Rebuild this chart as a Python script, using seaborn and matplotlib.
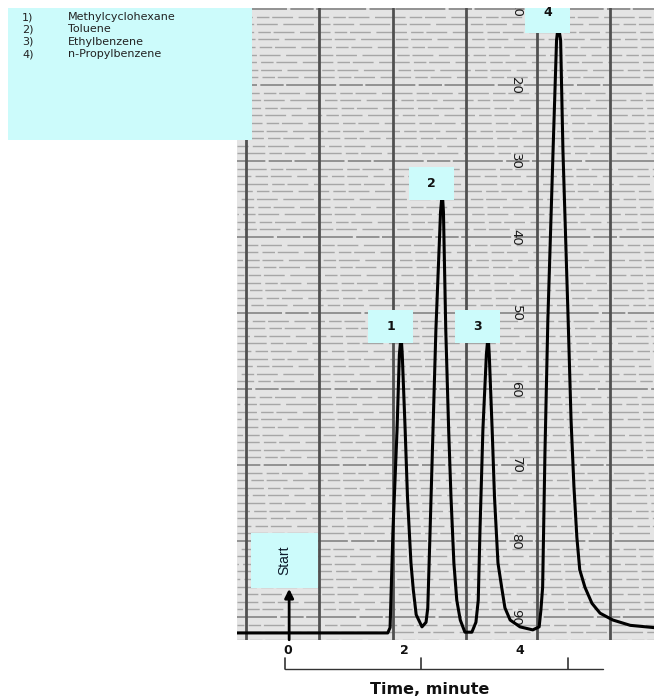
import numpy as np
import pandas as pd
import matplotlib
matplotlib.use("Agg")
import matplotlib.pyplot as plt
import matplotlib.transforms as mtransforms
from matplotlib.patches import Rectangle
import seaborn as sns

# ---------------- data ----------------
compounds = ["Methylcyclohexane", "Toluene", "Ethylbenzene", "n-Propylbenzene"]
peak_ids = ["1", "2", "3", "4"]
peak_times = [1.95, 2.66, 3.45, 4.66]          # minutes
peak_visible_top = [53.95, 35.13, 53.95, 13.16]  # chart division where label sits

trace_time = [-0.88, 1.72, 1.76, 1.81, 1.88, 1.92, 1.95, 1.97, 2.02, 2.06, 2.12,
              2.16, 2.21, 2.31, 2.38, 2.41, 2.45, 2.50, 2.55, 2.63, 2.66, 2.68,
              2.72, 2.77, 2.81, 2.86, 2.91, 2.97, 3.05, 3.17, 3.24, 3.28, 3.31,
              3.36, 3.42, 3.45, 3.47, 3.52, 3.56, 3.62, 3.69, 3.74, 3.83, 4.00,
              4.22, 4.33, 4.36, 4.39, 4.43, 4.48, 4.57, 4.63, 4.66, 4.70, 4.74,
              4.83, 4.88, 4.93, 4.98, 5.03, 5.12, 5.24, 5.38, 5.60, 5.90, 6.31]
trace_signal = [92.1, 92.1, 91.4, 78.6, 65.4, 55.5, 52.9, 55.5, 65.4, 74.2, 82.9,
                86.4, 89.7, 91.3, 90.7, 88.8, 78.6, 65.4, 52.2, 36.7, 34.1, 36.7,
                52.2, 65.4, 74.2, 82.9, 87.8, 90.4, 92.0, 92.0, 90.7, 87.8, 78.6,
                65.4, 55.5, 52.9, 55.5, 65.4, 74.2, 82.9, 86.4, 88.8, 90.4, 91.3,
                91.7, 91.3, 89.1, 86.1, 68.4, 50.9, 28.6, 14.1, 12.1, 14.1, 28.6,
                50.9, 64.1, 72.9, 79.5, 83.8, 86.1, 88.2, 89.5, 90.4, 91.1, 91.4]

scale_marks = [10, 20, 30, 40, 50, 60, 70, 80, 90]
paper_verticals = [-0.72, 0.53, 1.81, 3.07, 4.29, 5.55]
time_tick_labels = [0, 2, 4]
ruler_ticks = [-0.05, 2.29, 4.83]
ruler_end = 5.43
start_time = 0.02

# ---------------- styling / layout ----------------
sns.set_style("white")
plt.rcParams["font.family"] = ["DejaVu Sans"]

W, H = 654, 697
fig = plt.figure(figsize=(W / 100, H / 100), dpi=100)
fig.patch.set_facecolor("white")

def fx(px):
    return px / W

def fy(py):
    return 1 - py / H

CYAN = "#ccfbfb"
PAPER = "#e4e4e4"

ax = fig.add_axes([fx(237), fy(640), fx(654) - fx(237), fy(8) - fy(640)])
ax.set_facecolor(PAPER)
for s in ax.spines.values():
    s.set_visible(False)
ax.set_xticks([])
ax.set_yticks([])

# chart paper rulings (scanned look: broken lines with staggered dashes)
for k, v in enumerate(range(10, 94)):
    offset = (k * 11) % 23
    if v % 10 == 0:
        ax.axhline(v, color="#858585", lw=1.2, ls=(offset, (30, 2, 14, 1.5)), zorder=1)
    else:
        ax.axhline(v, color="#a6a6a6", lw=1.0, ls=(offset, (22, 3, 9, 2, 15, 4)), zorder=1)
for t in paper_verticals:
    ax.axvline(t, color="#505050", lw=2.0, zorder=1.5)

# chart division numbers
for v in scale_marks:
    ax.text(3.93, v, str(v), rotation=-90, ha="center", va="center",
            fontsize=9.5, color="#1a1a1a", zorder=2, clip_on=True)

# chromatogram trace
df = pd.DataFrame({"time": trace_time, "signal": trace_signal})
sns.lineplot(data=df, x="time", y="signal", sort=False, estimator=None,
             color="black", lw=2.2, ax=ax, zorder=3)
ax.set_xlabel("")
ax.set_ylabel("")
ax.set_xlim(-0.879, 6.310)
ax.set_ylim(93.03, 9.87)

# peak label boxes
box_w, box_h, box_off = 0.78, 4.35, 0.57
for pid, t, top in zip(peak_ids, peak_times, peak_visible_top):
    ax.add_patch(Rectangle((t - box_off, top - box_h), box_w, box_h,
                           facecolor=CYAN, edgecolor="none", zorder=4))
    ty = top - box_h / 2 if pid != "4" else top - box_h * 0.62
    ax.text(t - box_off + box_w / 2, ty, pid, ha="center", va="center",
            fontsize=9, fontweight="bold", color="#111", zorder=5)

# start marker
ax.add_patch(Rectangle((start_time - 0.66, 79.0), 1.16, 7.2,
                       facecolor=CYAN, edgecolor="none", zorder=4))
ax.text(start_time - 0.08, 82.6, "Start", rotation=90, ha="center", va="center",
        fontsize=10, color="#0d1a2a",
        family=["Liberation Sans Narrow", "Liberation Sans", "DejaVu Sans"], zorder=5)
ax.annotate("", xy=(start_time, 86.3), xytext=(start_time, 93.0),
            arrowprops=dict(arrowstyle="-|>", color="black", lw=2.0,
                            mutation_scale=13, shrinkA=0, shrinkB=0),
            zorder=5, annotation_clip=False)

# time ruler below the chart
tr = mtransforms.blended_transform_factory(ax.transData, fig.transFigure)
ax.plot([ruler_ticks[0], ruler_end], [fy(669), fy(669)], color="#333",
        lw=1.0, transform=tr, clip_on=False)
for t in ruler_ticks:
    ax.plot([t, t], [fy(669), fy(658)], color="#333", lw=1.2,
            transform=tr, clip_on=False)
for t in time_tick_labels:
    ax.text(t, fy(651), str(t), transform=tr, ha="center", va="center",
            fontsize=9, fontweight="bold", color="#111")
ax.text(2.45, fy(689), "Time, minute", transform=tr, ha="center", va="center",
        fontsize=11.5, fontweight="bold", color="#111")

# compound legend box
fig.add_artist(Rectangle((fx(8), fy(140)), fx(252) - fx(8), fy(8) - fy(140),
                         transform=fig.transFigure, facecolor=CYAN,
                         edgecolor="none", zorder=5))
for i, (pid, name) in enumerate(zip(peak_ids, compounds)):
    y = fy(17 + 12.4 * i)
    fig.text(fx(22), y, pid + ")", ha="left", va="center", fontsize=8,
             color="#222", zorder=6)
    fig.text(fx(68), y, name, ha="left", va="center", fontsize=8,
             color="#222", zorder=6)

fig.savefig("out.png", dpi=100)
